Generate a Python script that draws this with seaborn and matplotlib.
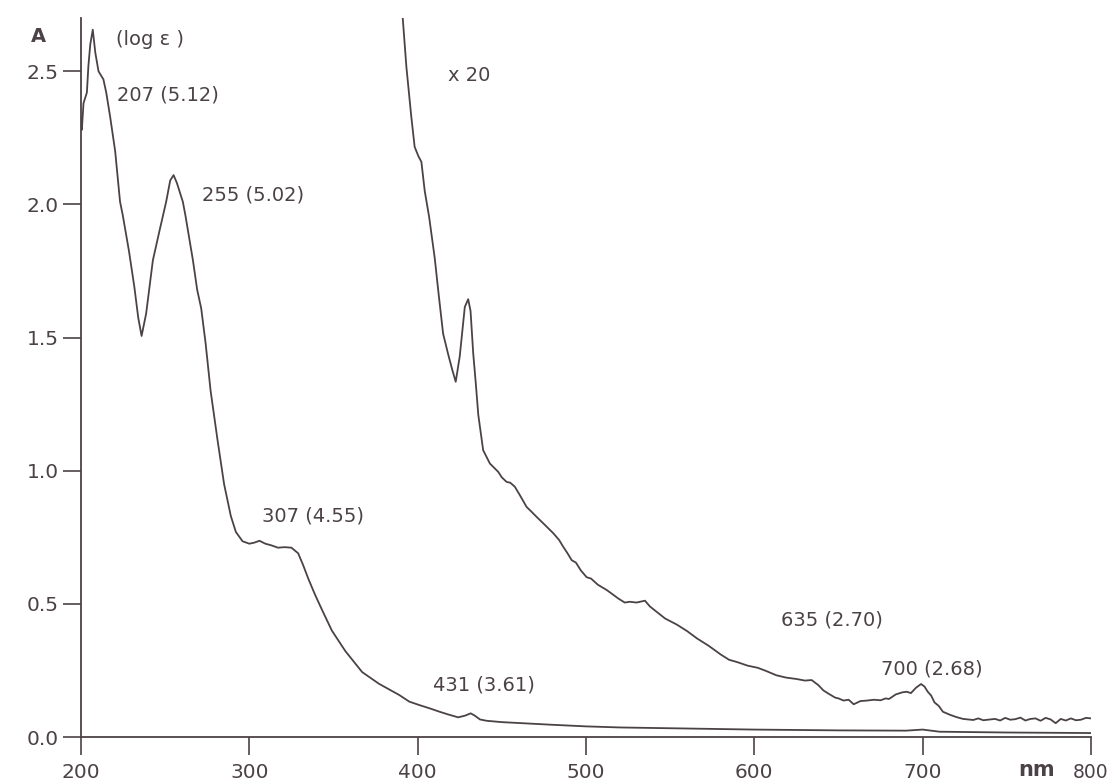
import numpy as np
import pandas as pd
import seaborn as sns
import matplotlib.pyplot as plt

# main absorption curve (nm, A)
main_nm = [200.0, 200.5, 201.5, 202.5, 203.5, 204.4, 205.5, 207, 208.5, 210.4,
           212.3, 213.3, 215, 217.3, 220.3, 223.2, 224.8, 228.5, 231.7, 234,
           236, 238.7, 242.7, 246.6, 250.6, 253, 255, 257, 260.5, 262,
           266.5, 269, 271.4, 274, 277, 281, 285, 289, 292, 296,
           300, 303, 306, 309.5, 313, 317, 321, 325, 329, 332,
           335, 339, 343, 349, 357, 367, 377, 389, 395, 401,
           407, 413, 418, 424, 428, 431.5, 434, 437, 441, 450,
           465, 480, 500, 520, 560, 600, 650, 690, 700, 710,
           750, 800]
main_A = [2.33, 2.28, 2.38, 2.40, 2.42, 2.52, 2.60, 2.656, 2.57, 2.50,
          2.48, 2.47, 2.42, 2.33, 2.20, 2.01, 1.96, 1.825, 1.69, 1.575,
          1.506, 1.59, 1.79, 1.90, 2.01, 2.09, 2.11, 2.08, 2.01, 1.96,
          1.79, 1.68, 1.61, 1.48, 1.30, 1.12, 0.95, 0.83, 0.77, 0.735,
          0.726, 0.73, 0.737, 0.726, 0.72, 0.711, 0.713, 0.711, 0.69, 0.645,
          0.595, 0.535, 0.48, 0.40, 0.323, 0.244, 0.20, 0.158, 0.133, 0.12,
          0.108, 0.095, 0.085, 0.074, 0.08, 0.089, 0.08, 0.066, 0.061, 0.056,
          0.051, 0.046, 0.040, 0.036, 0.032, 0.028, 0.025, 0.024, 0.028, 0.020,
          0.017, 0.015]

# x 20 expanded curve (nm, A)
x20_nm = [390.5, 391, 393.3, 396.2, 398.2, 400.5, 402.2, 404.2, 406.8, 410.1,
          412.5, 415.1, 418, 420.5, 422.6, 425, 428, 430, 431.4, 433,
          434.5, 436, 438.9, 442.9, 447.8, 450, 452.8, 455, 457.7, 461,
          464.7, 467, 470.6, 475, 480.6, 484, 486.5, 489, 491.5, 494,
          497, 500.4, 503, 507, 512.3, 516, 519.2, 523, 526, 530,
          535, 538, 541, 547, 554, 560, 566, 573, 580, 585,
          589.5, 596, 602, 607, 613, 619, 625, 630, 634, 638,
          641, 644, 648, 650, 653, 656, 659, 663, 667, 671,
          675, 678, 680, 684, 688, 690.5, 693, 696, 699, 701,
          703, 705, 707, 709.5, 712, 716, 720, 724, 727, 730,
          733, 736, 740, 743, 746, 749, 752, 755, 758, 761,
          764, 767, 770, 773, 776, 779, 782, 785, 788, 791,
          794, 797, 800]
x20_A = [2.75, 2.71, 2.516, 2.33, 2.216, 2.18, 2.16, 2.05, 1.953, 1.80,
         1.66, 1.515, 1.44, 1.38, 1.334, 1.43, 1.615, 1.644, 1.60, 1.44,
         1.33, 1.21, 1.077, 1.027, 0.996, 0.975, 0.958, 0.955, 0.94, 0.905,
         0.864, 0.85, 0.827, 0.80, 0.765, 0.74, 0.714, 0.69, 0.664, 0.655,
         0.625, 0.60, 0.595, 0.572, 0.552, 0.535, 0.52, 0.505, 0.508, 0.505,
         0.512, 0.49, 0.475, 0.445, 0.422, 0.398, 0.37, 0.342, 0.31, 0.29,
         0.282, 0.268, 0.26, 0.248, 0.232, 0.223, 0.218, 0.212, 0.214, 0.195,
         0.175, 0.163, 0.148, 0.145, 0.137, 0.14, 0.123, 0.135, 0.137, 0.14,
         0.138, 0.145, 0.143, 0.16, 0.168, 0.17, 0.165, 0.185, 0.199, 0.19,
         0.17, 0.156, 0.13, 0.117, 0.095, 0.084, 0.075, 0.068, 0.066, 0.064,
         0.07, 0.063, 0.066, 0.068, 0.062, 0.072, 0.065, 0.067, 0.073, 0.062,
         0.068, 0.07, 0.061, 0.072, 0.066, 0.052, 0.068, 0.062, 0.07, 0.063,
         0.065, 0.072, 0.07]

# peak labels
peak_labels = ["207 (5.12)", "255 (5.02)", "307 (4.55)", "431 (3.61)",
               "635 (2.70)", "700 (2.68)"]
label_x = [221.5, 272, 307.5, 409, 616, 675]
label_y = [2.41, 2.035, 0.83, 0.195, 0.438, 0.255]

main_df = pd.DataFrame({"nm": main_nm, "A": main_A})
x20_df = pd.DataFrame({"nm": x20_nm, "A": x20_A})

sns.set_style("ticks")
plt.rcParams['font.family'] = ['DejaVu Sans']

ink = '#4b4247'

fig = plt.figure(figsize=(11.14, 7.82), dpi=100)
ax = fig.add_axes([0.0727, 0.0575, 0.9067, 0.9195])

sns.lineplot(data=main_df, x="nm", y="A", ax=ax, color=ink, lw=1.3,
             sort=False, estimator=None)
sns.lineplot(data=x20_df, x="nm", y="A", ax=ax, color=ink, lw=1.3,
             sort=False, estimator=None)

ax.set_xlim(200, 800)
ax.set_ylim(0, 2.70)
ax.set_xticks([200, 300, 400, 500, 600, 700, 800])
ax.set_yticks([0.0, 0.5, 1.0, 1.5, 2.0, 2.5])
ax.set_yticklabels(["0.0", "0.5", "1.0", "1.5", "2.0", "2.5"])
ax.set_xlabel("")
ax.set_ylabel("")

sns.despine(ax=ax)
for s in ["left", "bottom"]:
    ax.spines[s].set_color(ink)
    ax.spines[s].set_linewidth(1.3)

ax.tick_params(axis="both", direction="out", length=13, width=1.2,
               color=ink, labelcolor=ink, labelsize=14.5)
ax.tick_params(axis="x", pad=6)
ax.tick_params(axis="y", pad=3)
ax.get_xticklabels()[-1].set_fontsize(13.5)

for txt, lx, ly in zip(peak_labels, label_x, label_y):
    ax.text(lx, ly, txt, color=ink, fontsize=14, va="center", ha="left")

ax.text(418, 2.485, "x 20", color=ink, fontsize=14, va="center", ha="left")
ax.text(170, 2.63, "A", color=ink, fontsize=14, fontweight="bold",
        va="center", ha="left", clip_on=False)
ax.text(221, 2.62, "(log ε )", color=ink, fontsize=14, va="center", ha="left")
ax.text(757, -0.125, "nm", color=ink, fontsize=15, fontweight="bold",
        va="center", ha="left", clip_on=False)

fig.savefig("out.png", dpi=100)
